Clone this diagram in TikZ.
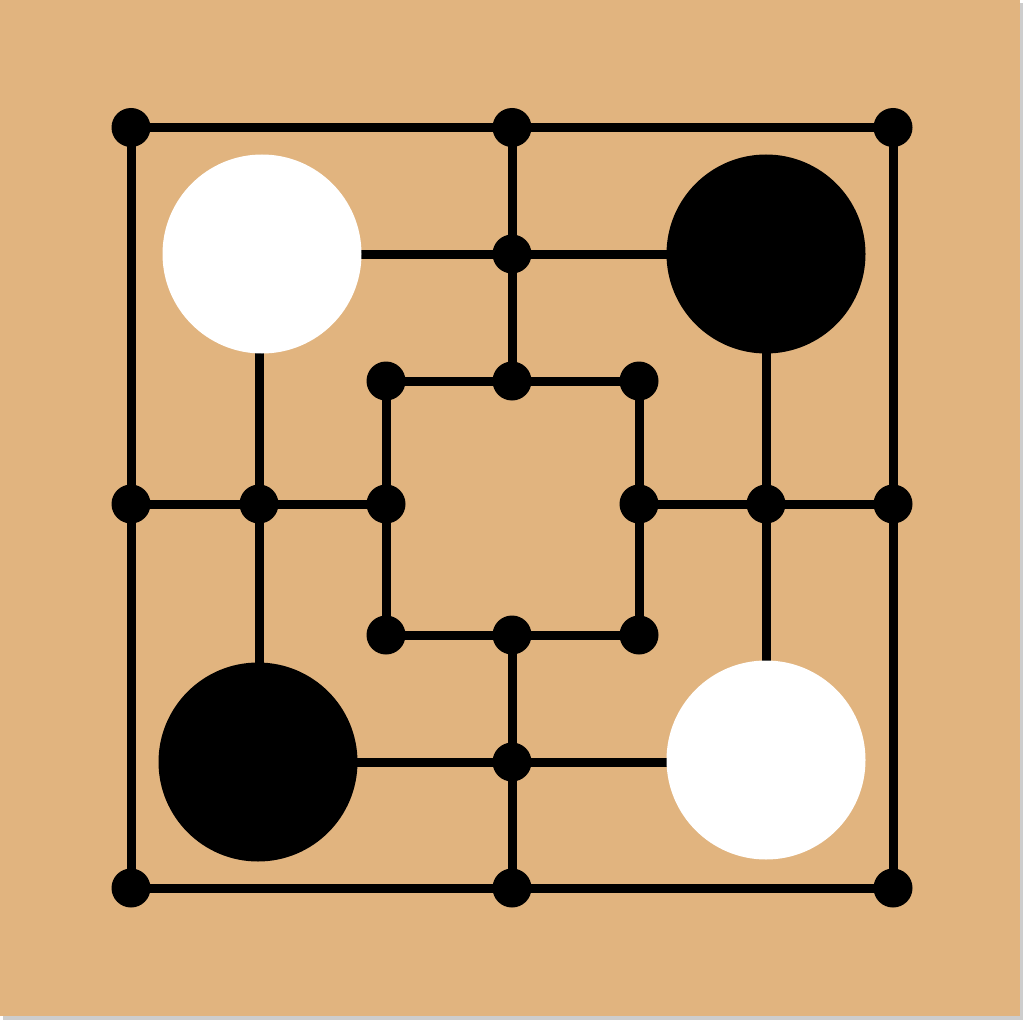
\documentclass[tikz,border=0pt]{standalone}
\definecolor{board}{RGB}{225,180,127}
\definecolor{shadow}{RGB}{205,205,205}
\begin{document}
\begin{tikzpicture}[x=1pt,y=-1pt,
  boardline/.style={line width=9pt},
  pt/.style={circle,fill=black,minimum size=39pt,inner sep=0pt},
  wpiece/.style={circle,fill=white,minimum size=199pt,inner sep=0pt},
  bpiece/.style={circle,fill=black,minimum size=199pt,inner sep=0pt}]
\useasboundingbox (0,0) rectangle (1024,1024);
\fill[white] (0,0) rectangle (1024,1024);
\fill[shadow] (3,3) rectangle (1023,1020);
\fill[board] (0,0) rectangle (1020,1016);
% coordinates
\coordinate (o1) at (131,127.5); \coordinate (o2) at (512,127.5); \coordinate (o3) at (893,127.5);
\coordinate (o4) at (131,504); \coordinate (o6) at (893,504);
\coordinate (o7) at (131,888); \coordinate (o8) at (512,888); \coordinate (o9) at (893,888);
\coordinate (m1) at (259,254); \coordinate (m2) at (512,254); \coordinate (m3) at (766,254);
\coordinate (m4) at (259,504); \coordinate (m6) at (766,504);
\coordinate (m7) at (259,762); \coordinate (m8) at (512,762); \coordinate (m9) at (766,762);
\coordinate (i1) at (386,381); \coordinate (i2) at (512,381); \coordinate (i3) at (639,381);
\coordinate (i4) at (386,504); \coordinate (i6) at (639,504);
\coordinate (i7) at (386,635); \coordinate (i8) at (512,635); \coordinate (i9) at (639,635);
% lines
\draw[boardline] (o1) -- (o3) -- (o9) -- (o7) -- cycle;
\draw[boardline] (m1) -- (m3) -- (m9) -- (m7) -- cycle;
\draw[boardline] (i1) -- (i3) -- (i9) -- (i7) -- cycle;
\draw[boardline] (o2) -- (i2);
\draw[boardline] (i8) -- (o8);
\draw[boardline] (o4) -- (i4);
\draw[boardline] (i6) -- (o6);
% points
\foreach \p in {o1,o2,o3,o4,o6,o7,o8,o9,m2,m4,m6,m8,i1,i2,i3,i4,i6,i7,i8,i9}
  \node[pt] (d\p) at (\p) {};
% pieces
\node[wpiece] (w1) at (262,254) {};
\node[bpiece] (b1) at (766,254) {};
\node[bpiece] (b2) at (258,762) {};
\node[wpiece] (w2) at (766,760) {};
\end{tikzpicture}
\end{document}
